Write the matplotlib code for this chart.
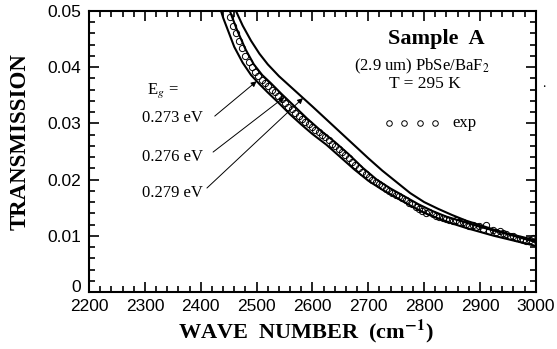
import matplotlib
matplotlib.use("Agg")
import matplotlib.pyplot as plt
import matplotlib.transforms as mtransforms
from matplotlib.ticker import MultipleLocator

# --- Data ---
# calculated transmission curves for three gap energies
wn_273 = [2430, 2440, 2450, 2460, 2475, 2490, 2505, 2520, 2540, 2560, 2580, 2600, 2625, 2650, 2675, 2700,
          2725, 2750, 2775, 2800, 2825, 2850, 2875, 2900, 2925, 2950, 2975, 3000]
tr_273 = [0.0520, 0.0488, 0.0462, 0.0436, 0.0408, 0.0386, 0.0370, 0.0355, 0.0336, 0.0316, 0.0298, 0.0281,
          0.0262, 0.0240, 0.0218, 0.0198, 0.0182, 0.0168, 0.0154, 0.0141, 0.0131, 0.0122, 0.0114, 0.0107,
          0.0100, 0.0094, 0.0088, 0.0082]

wn_276 = [2445, 2455, 2465, 2480, 2495, 2510, 2525, 2545, 2565, 2590, 2615, 2640, 2665, 2690, 2715, 2740,
          2765, 2790, 2815, 2840, 2870, 2900, 2930, 2960, 3000]
tr_276 = [0.0520, 0.0492, 0.0466, 0.0432, 0.0405, 0.0386, 0.0372, 0.0352, 0.0333, 0.0309, 0.0287, 0.0267,
          0.0245, 0.0221, 0.0200, 0.0184, 0.0170, 0.0156, 0.0144, 0.0134, 0.0125, 0.0116, 0.0108, 0.0100,
          0.0089]

wn_279 = [2455, 2463, 2475, 2490, 2505, 2520, 2540, 2560, 2580, 2600, 2625, 2650, 2675, 2700, 2725, 2750,
          2775, 2800, 2825, 2850, 2875, 2900, 2925, 2950, 2975, 3000]
tr_279 = [0.0520, 0.0500, 0.0474, 0.0447, 0.0424, 0.0405, 0.0384, 0.0366, 0.0348, 0.0330, 0.0307, 0.0284,
          0.0261, 0.0238, 0.0216, 0.0196, 0.0176, 0.0160, 0.0148, 0.0137, 0.0127, 0.0119, 0.0111, 0.0104,
          0.0098, 0.0092]

# measured points
wn_exp = [2452, 2458, 2463, 2469, 2474, 2480, 2486, 2491, 2497, 2503, 2509, 2515, 2521, 2527, 2533, 2539,
          2545, 2551, 2557, 2563, 2569, 2575, 2581, 2587, 2593, 2599, 2605, 2611, 2617, 2623, 2629, 2635,
          2641, 2647, 2653, 2659, 2665, 2671, 2677, 2683, 2689, 2695, 2701, 2707, 2713, 2719, 2725, 2731,
          2737, 2743, 2749, 2755, 2761, 2767, 2773, 2779, 2785, 2791, 2797, 2803, 2809, 2815, 2821, 2827,
          2833, 2839, 2845, 2851, 2857, 2863, 2869, 2875, 2881, 2887, 2893, 2899, 2905, 2911, 2917, 2923,
          2929, 2935, 2941, 2947, 2953, 2959, 2965, 2971, 2977, 2983, 2989, 2995, 3000]
tr_exp = [0.0490, 0.0474, 0.0461, 0.0447, 0.0434, 0.0420, 0.0410, 0.0400, 0.0392, 0.0385, 0.0378, 0.0371,
          0.0366, 0.0360, 0.0355, 0.0348, 0.0343, 0.0336, 0.0330, 0.0325, 0.0319, 0.0314, 0.0308, 0.0303,
          0.0299, 0.0293, 0.0289, 0.0284, 0.0279, 0.0276, 0.0270, 0.0264, 0.0260, 0.0255, 0.0250, 0.0244,
          0.0238, 0.0232, 0.0226, 0.0220, 0.0214, 0.0210, 0.0205, 0.0200, 0.0195, 0.0192, 0.0188, 0.0184,
          0.0180, 0.0176, 0.0173, 0.0171, 0.0167, 0.0163, 0.0159, 0.0156, 0.0152, 0.0148, 0.0145, 0.0140,
          0.0142, 0.0138, 0.0136, 0.0133, 0.0131, 0.0130, 0.0128, 0.0127, 0.0128, 0.0125, 0.0124, 0.0121,
          0.0118, 0.0119, 0.0116, 0.0117, 0.0112, 0.0120, 0.0109, 0.0110, 0.0107, 0.0108, 0.0105, 0.0104,
          0.0100, 0.0099, 0.0096, 0.0094, 0.0092, 0.0090, 0.0092, 0.0096, 0.0093]

gap_labels = ["0.273 eV", "0.276 eV", "0.279 eV"]
label_pos = [(2349, 0.0310), (2349, 0.0240), (2349, 0.0176)]
arrow_tail = [(2425, 0.0313), (2422, 0.0249), (2411, 0.0185)]
arrow_head = [(2500, 0.0375), (2550, 0.0347), (2583, 0.0345)]

SERIF = "Liberation Serif"
SANS = "Liberation Sans"
plt.rcParams['mathtext.fontset'] = 'stix'

# --- Figure ---
fig = plt.figure(figsize=(5.57, 3.49), dpi=100)
ax = fig.add_axes([0.160, 0.1633, 0.802, 0.8052])

for wn, tr in [(wn_273, tr_273), (wn_276, tr_276), (wn_279, tr_279)]:
    ax.plot(wn, tr, color='k', lw=1.5)
ax.plot(wn_exp, tr_exp, 'o', mfc='none', mec='k', ms=4.5, mew=0.7)

ax.set_xlim(2200, 3000)
ax.set_ylim(0, 0.05)

# --- Ticks ---
ax.xaxis.set_major_locator(MultipleLocator(100))
ax.xaxis.set_minor_locator(MultipleLocator(20))
ax.yaxis.set_major_locator(MultipleLocator(0.01))
ax.yaxis.set_minor_locator(MultipleLocator(0.002))
ax.tick_params(which='both', direction='in', top=True, right=True, width=1.2)
ax.tick_params(which='major', length=7, labelsize=12.5)
ax.tick_params(axis='x', which='major', pad=5)
ax.tick_params(axis='y', which='major', pad=6)
ax.tick_params(which='minor', length=4)
ax.set_yticks([0, 0.01, 0.02, 0.03, 0.04, 0.05])
ax.set_yticklabels(["0", "0.01", "0.02", "0.03", "0.04", "0.05"])
for lab in ax.get_xticklabels() + ax.get_yticklabels():
    lab.set_family(SANS)
# the "0" sits a bit higher so it clears the 2200
zero = ax.get_yticklabels()[0]
zero.set_transform(zero.get_transform() + mtransforms.ScaledTranslation(0, 4 / 72, fig.dpi_scale_trans))
for sp in ax.spines.values():
    sp.set_linewidth(1.5)

ax.set_xlabel("WAVE  NUMBER  (cm$^{\\mathbf{-1}}$)", family=SERIF, fontsize=16, fontweight='bold')
ax.set_ylabel("TRANSMISSION", family=SERIF, fontsize=16.5, fontweight='bold')
ax.xaxis.set_label_coords(0.4855, -0.092)
ax.yaxis.set_label_coords(-0.132, 0.536)

# --- Annotations ---
ax.text(2821, 0.0450, "Sample  A", family=SERIF, fontsize=16, fontweight='bold', ha='center', va='center')
ax.text(2796, 0.0402, "(2.9 um) PbSe/BaF$_2$", family=SERIF, fontsize=12, ha='center', va='center')
ax.text(2801, 0.0370, "T = 295 K", family=SERIF, fontsize=12.5, ha='center', va='center')
ax.plot([2737, 2764, 2792, 2819], [0.0301] * 4, 'o', mfc='none', mec='k', ms=4, mew=0.7)
ax.text(2851, 0.0301, "exp", family=SERIF, fontsize=12, ha='left', va='center')
ax.text(2332, 0.0359, "E$_g$ =", family=SERIF, fontsize=12, ha='center', va='center')

for lab, pos, tail, head in zip(gap_labels, label_pos, arrow_tail, arrow_head):
    ax.text(pos[0], pos[1], lab, family=SERIF, fontsize=12, ha='center', va='center')
    ax.annotate("", xy=head, xytext=tail,
                arrowprops=dict(arrowstyle='-|>', color='k', lw=0.7, mutation_scale=8,
                                shrinkA=0, shrinkB=0))

fig.text(542 / 557, 1 - 87 / 349, ".", family=SERIF, fontsize=10)

fig.savefig("out.png", dpi=100)
